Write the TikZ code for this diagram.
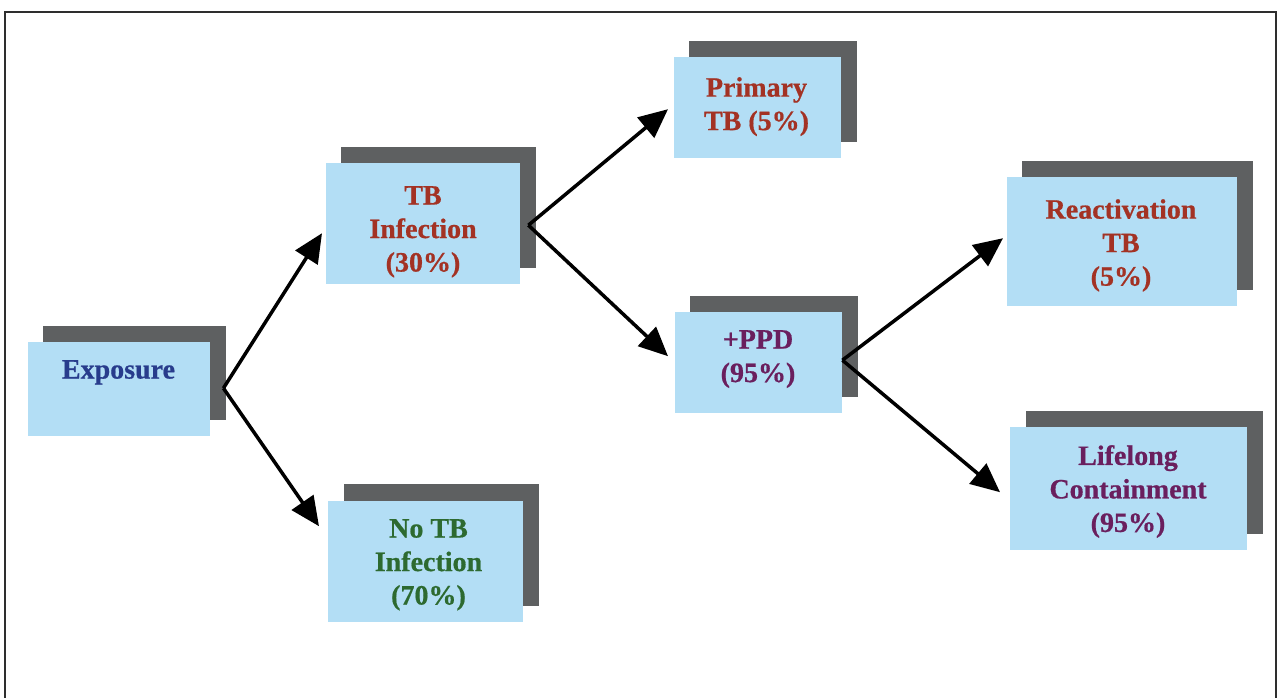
\documentclass[tikz,border=0pt]{standalone}
\usepackage{fontspec}
\setmainfont{Liberation Serif}[BoldFeatures={FakeBold=0.6}]
\usetikzlibrary{arrows.meta,calc}
\definecolor{boxblue}{HTML}{B3DEF5}
\definecolor{shadgray}{HTML}{5E6061}
\definecolor{txtred}{HTML}{A33224}
\definecolor{txtblue}{HTML}{283C8C}
\definecolor{txtgreen}{HTML}{2D6A30}
\definecolor{txtpurple}{HTML}{6A1F5E}
\definecolor{framegray}{HTML}{2E2E2E}
\begin{document}
\begin{tikzpicture}[x=1pt,y=-1pt,
  shadbox/.style={fill=shadgray, draw=none, inner sep=0pt, anchor=north west},
  lightbox/.style={fill=boxblue, draw=none, inner sep=0pt, anchor=north west},
  boxtext/.style={anchor=north, inner sep=0pt, align=center, yshift=3pt,
    font=\fontsize{28}{33.5}\selectfont\bfseries},
  flow/.style={line width=3.5pt, draw=black, -{Triangle[length=29pt,width=26pt]}}
]
\useasboundingbox (0,0) rectangle (1277,698);
% frame
\draw[framegray, line width=2pt] (5,698) -- (5,12) -- (1276,12) -- (1276,698);

% Exposure
\node[shadbox, minimum width=183pt, minimum height=94pt] (exps) at (43,326) {};
\node[lightbox, minimum width=182pt, minimum height=94pt] (exp) at (28,342) {};
\node[boxtext, text=txtblue] (expt) at (118.5,363) {Exposure};

% TB Infection
\node[shadbox, minimum width=195pt, minimum height=121pt] (tbis) at (341,147) {};
\node[lightbox, minimum width=194pt, minimum height=121pt] (tbi) at (326,163) {};
\node[boxtext, text=txtred] (tbit) at (423,189) {TB\\Infection\\(30\%)};

% No TB Infection
\node[shadbox, minimum width=195pt, minimum height=122pt] (notbs) at (344,484) {};
\node[lightbox, minimum width=195pt, minimum height=121pt] (notb) at (328,501) {};
\node[boxtext, text=txtgreen] (notbt) at (428.5,522) {No TB\\Infection\\(70\%)};

% Primary TB
\node[shadbox, minimum width=168pt, minimum height=101pt] (prims) at (689,41) {};
\node[lightbox, minimum width=167pt, minimum height=101pt] (prim) at (674,57) {};
\node[boxtext, text=txtred] (primt) at (756.5,80) {Primary\\TB (5\%)};

% +PPD
\node[shadbox, minimum width=168pt, minimum height=101pt] (ppds) at (690,296) {};
\node[lightbox, minimum width=167pt, minimum height=101pt] (ppd) at (675,312) {};
\node[boxtext, text=txtpurple] (ppdt) at (758,333) {+PPD\\(95\%)};

% Reactivation TB
\node[shadbox, minimum width=231pt, minimum height=129pt] (reacts) at (1022,161) {};
\node[lightbox, minimum width=230pt, minimum height=129pt] (react) at (1007,177) {};
\node[boxtext, text=txtred] (reactt) at (1121,202) {Reactivation\\TB\\(5\%)};

% Lifelong Containment
\node[shadbox, minimum width=237pt, minimum height=123pt] (lifes) at (1026,411) {};
\node[lightbox, minimum width=237pt, minimum height=123pt] (life) at (1010,427) {};
\node[boxtext, text=txtpurple] (lifet) at (1128,448) {Lifelong\\Containment\\(95\%)};

% branch points and arrow tips
\coordinate (a1) at ($(exp.east)+(13,-1)$);
\coordinate (a2) at ($(tbi.east)+(8,1.5)$);
\coordinate (a3) at ($(ppd.east)+(0,-2.5)$);
\coordinate (t1) at ($(tbi.west)+(-4,9.5)$);
\coordinate (t2) at ($(notb.west)+(-9,-35.5)$);
\coordinate (t3) at ($(prim.west)+(-6,1.5)$);
\coordinate (t4) at ($(ppd.west)+(-7,-6.5)$);
\coordinate (t5) at ($(react.west)+(-4,-3.5)$);
\coordinate (t6) at ($(life.west)+(-10,3.5)$);

\draw[flow] (a1) -- (t1);
\draw[flow] (a1) -- (t2);
\draw[flow] (a2) -- (t3);
\draw[flow] (a2) -- (t4);
\draw[flow] (a3) -- (t5);
\draw[flow] (a3) -- (t6);
\end{tikzpicture}
\end{document}
